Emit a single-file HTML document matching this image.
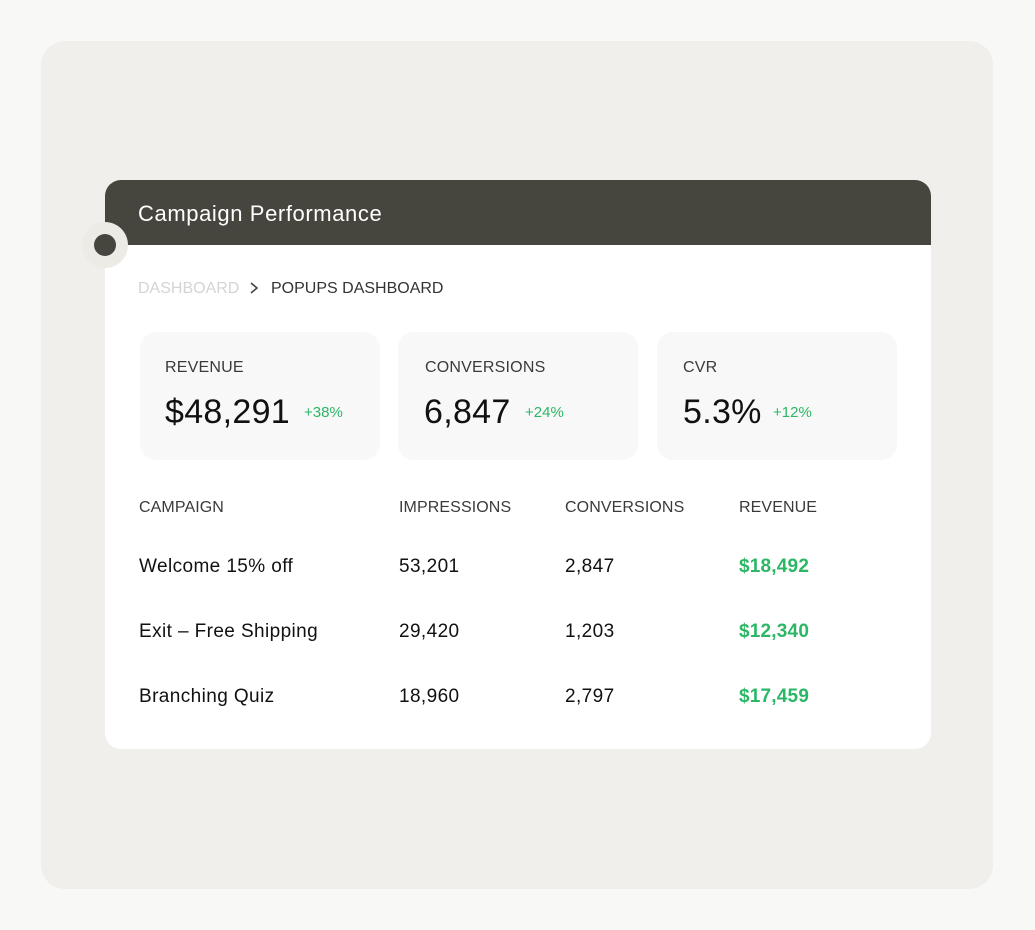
<!DOCTYPE html>
<html><head><style>
*{margin:0;padding:0;box-sizing:border-box}
body{width:1035px;height:930px;background:#f8f8f7;font-family:"Liberation Sans",sans-serif;position:relative;overflow:hidden}
.panel{position:absolute;left:41px;top:41px;width:952px;height:848px;background:#f0efeb;border-radius:24px}
.card{position:absolute;left:105px;top:180px;width:826px;height:569px;background:#fff;border-radius:16px;overflow:hidden}
.hdr{position:absolute;left:0;top:0;width:826px;height:65px;background:#47463e;color:#fff;font-size:22px;letter-spacing:0.6px;padding:21px 0 0 33px}
.ring{position:absolute;left:82px;top:222px;width:46px;height:46px;border-radius:50%;background:#ecebe6}
.dot{position:absolute;left:94px;top:234px;width:22px;height:22px;border-radius:50%;background:#47463e}
.t{position:absolute;white-space:nowrap}
.bc{font-size:16px;top:280px}
.stat{position:absolute;top:332px;width:240px;height:128px;background:#f8f8f8;border-radius:16px}
.sl{font-size:16px;color:#3a3a3a;top:359px;letter-spacing:0.2px}
.sv{font-size:34px;color:#111;top:393px;letter-spacing:0.3px}
.sp{font-size:15px;color:#2bb765;top:404px}
.th{font-size:16px;color:#3a3a3a;top:499px;letter-spacing:0.1px}
.td{font-size:19px;color:#111;letter-spacing:0.4px}
.g{color:#2bb765;font-weight:bold;letter-spacing:0.2px}
</style></head><body>
<div class="panel"></div>
<div class="card"><div class="hdr">Campaign Performance</div></div>
<div class="ring"></div><div class="dot"></div>
<div class="t bc" style="left:138px;color:#d4d4d4">DASHBOARD</div>
<svg class="t" style="left:248px;top:281px" width="12" height="14"><path d="M3 2 L9 7 L3 12" fill="none" stroke="#444" stroke-width="1.6"/></svg>
<div class="t bc" style="left:271px;color:#333">POPUPS DASHBOARD</div>
<div class="stat" style="left:140px"></div>
<div class="stat" style="left:398px"></div>
<div class="stat" style="left:657px"></div>
<div class="t sl" style="left:165px">REVENUE</div>
<div class="t sl" style="left:425px">CONVERSIONS</div>
<div class="t sl" style="left:683px">CVR</div>
<div class="t sv" style="left:165px">$48,291</div><div class="t sp" style="left:304px">+38%</div>
<div class="t sv" style="left:424px">6,847</div><div class="t sp" style="left:525px">+24%</div>
<div class="t sv" style="left:683px">5.3%</div><div class="t sp" style="left:773px">+12%</div>
<div class="t th" style="left:139px">CAMPAIGN</div>
<div class="t th" style="left:399px">IMPRESSIONS</div>
<div class="t th" style="left:565px">CONVERSIONS</div>
<div class="t th" style="left:739px">REVENUE</div>
<div class="t td" style="left:139px;top:556px">Welcome 15% off</div>
<div class="t td" style="left:399px;top:556px">53,201</div>
<div class="t td" style="left:565px;top:556px">2,847</div>
<div class="t td g" style="left:739px;top:556px">$18,492</div>
<div class="t td" style="left:139px;top:621px">Exit – Free Shipping</div>
<div class="t td" style="left:399px;top:621px">29,420</div>
<div class="t td" style="left:565px;top:621px">1,203</div>
<div class="t td g" style="left:739px;top:621px">$12,340</div>
<div class="t td" style="left:139px;top:686px">Branching Quiz</div>
<div class="t td" style="left:399px;top:686px">18,960</div>
<div class="t td" style="left:565px;top:686px">2,797</div>
<div class="t td g" style="left:739px;top:686px">$17,459</div>
</body></html>
